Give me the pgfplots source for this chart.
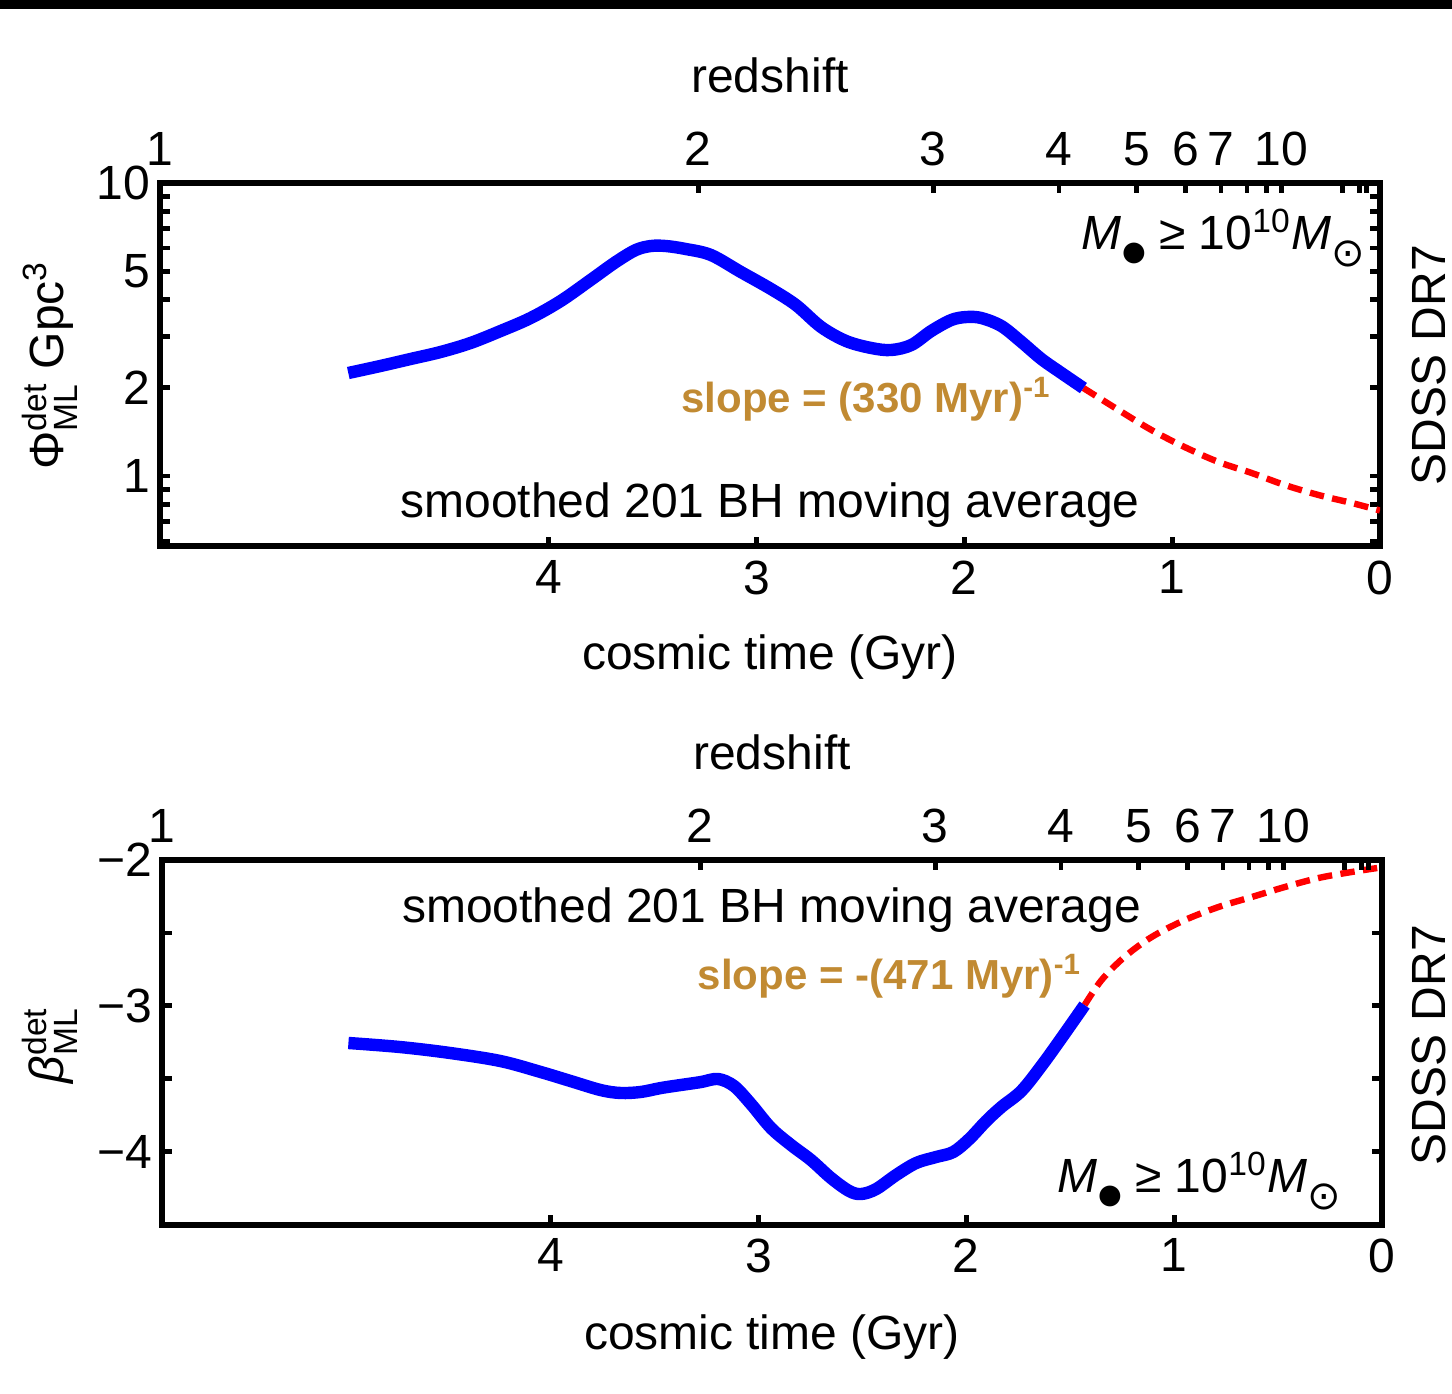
\documentclass[border=0pt]{standalone}
\usepackage{fontspec}
\setmainfont{Liberation Sans}
\newfontfamily\dejavu{DejaVu Sans}
\usepackage{amsmath}
\usepackage{pgfplots}
\pgfplotsset{compat=1.18}
\definecolor{slopecol}{RGB}{193,138,50}
\definecolor{curveblue}{RGB}{0,0,255}
\definecolor{curvered}{RGB}{255,0,0}
\newcommand{\fs}[1]{\fontsize{#1}{#1}\selectfont}
\newcommand{\Mbh}{\textit{M}\kern0.02em\raisebox{-0.22em}{\dejavu\fs{6.8bp}●}}
\newcommand{\Msun}{\textit{M}\raisebox{-0.34em}{\dejavu\fs{10bp}⊙}}

\pgfplotstableread{
t v
4.964 2.247
4.810 2.374
4.665 2.508
4.520 2.650
4.376 2.844
4.231 3.126
4.087 3.461
3.942 3.957
3.798 4.667
3.677 5.375
3.581 5.906
3.508 6.095
3.436 6.095
3.340 5.953
3.219 5.679
3.075 4.969
2.930 4.347
2.810 3.833
2.689 3.226
2.569 2.889
2.448 2.735
2.352 2.692
2.255 2.800
2.159 3.126
2.063 3.407
1.990 3.489
1.918 3.461
1.822 3.251
1.725 2.867
1.629 2.508
1.533 2.247
1.427 1.997
}\phiblue
\pgfplotstableread{
t v
1.427 1.997
1.258 1.680
1.099 1.435
0.940 1.256
0.776 1.116
0.617 1.024
0.458 0.932
0.294 0.861
0.135 0.809
0.000 0.763
}\phired
\pgfplotstableread{
t v
4.973 -3.255
4.723 -3.283
4.482 -3.324
4.241 -3.379
4.048 -3.454
3.904 -3.516
3.759 -3.578
3.663 -3.598
3.566 -3.591
3.470 -3.564
3.373 -3.543
3.277 -3.523
3.195 -3.502
3.118 -3.550
3.036 -3.674
2.940 -3.838
2.843 -3.955
2.747 -4.058
2.651 -4.181
2.564 -4.270
2.506 -4.291
2.434 -4.257
2.337 -4.160
2.241 -4.078
2.145 -4.037
2.063 -4.003
1.986 -3.914
1.904 -3.790
1.831 -3.694
1.735 -3.584
1.639 -3.413
1.542 -3.221
1.431 -2.995
}\betablue
\pgfplotstableread{
t v
1.431 -2.995
1.349 -2.823
1.239 -2.665
1.108 -2.528
0.949 -2.412
0.786 -2.322
0.627 -2.254
0.467 -2.185
0.304 -2.123
0.145 -2.082
0.000 -2.050
}\betared

\pgfplotsset{
  panel/.style={scale only axis, width=305bp, anchor=south west,
    x dir=reverse, xmin=0, xmax=5.87,
    axis line style={line width=1.5bp, black},
    every tick/.style={line width=1.2bp, black},
    major tick length=2.4bp, minor tick length=2.4bp, tick align=inside,
    tick label style={font=\fs{12bp}},
    yticklabel style={xshift=1bp},
    /pgf/number format/assume math mode=true,
    xtick={0,1,2,3,4}, xticklabels={0,1,2,3,4}, xtick pos=bottom,
    ytick pos=both,
  },
  zaxis/.style={scale only axis, width=305bp, anchor=south west,
    x dir=reverse, xmin=0, xmax=5.87, ymin=0, ymax=1,
    axis x line*=top, axis y line=none, xtick align=inside,
    axis line style={line width=1.5bp, black},
    every tick/.style={line width=1.2bp, black},
    major tick length=2.4bp, minor tick length=2.4bp,
    tick label style={font=\fs{12bp}},
    xticklabel style={yshift=0.8bp},
    xtick={5.87,3.28,2.15,1.545,1.17,0.935,0.765,0.474},
    xticklabels={1,2,3,4,5,6,7,10},
    minor xtick={0.64,0.547,0.18,0.10,0.066},
  },
  bluecurve/.style={curveblue, line width=3.1bp, smooth, tension=0.55},
  redcurve/.style={curvered, line width=1.6bp, dash pattern=on 3.6bp off 2.1bp, smooth, tension=0.55},
}

\begin{document}
\begin{tikzpicture}
\useasboundingbox (0,0) rectangle (363bp,348.5bp);
\fill[black] (0,346.3bp) rectangle (363bp,348.5bp);

% ---------- top panel ----------
\begin{axis}[panel, at={(40bp,211.875bp)}, height=90.875bp,
  ymode=log, ymin=0.575, ymax=10,
  ytick={1,2,5,10}, yticklabels={1,2,5,10},
  minor ytick={0.6,0.7,0.8,0.9,3,4,6,7,8,9}]
\addplot[redcurve] table[x=t,y=v] {\phired};
\addplot[bluecurve] table[x=t,y=v] {\phiblue};
\end{axis}
\begin{axis}[zaxis, at={(40bp,211.875bp)}, height=90.875bp]
\end{axis}

% ---------- bottom panel ----------
\begin{axis}[panel, at={(40.5bp,42.375bp)}, height=91.125bp,
  ymin=-4.5, ymax=-2,
  ytick={-4,-3,-2}, yticklabels={−4,−3,−2},
  minor ytick={-3.5,-2.5}]
\addplot[redcurve] table[x=t,y=v] {\betared};
\addplot[bluecurve] table[x=t,y=v] {\betablue};
\end{axis}
\begin{axis}[zaxis, at={(40.5bp,42.375bp)}, height=91.125bp]
\end{axis}

% ---------- labels ----------
\node[font=\fs{12bp}] at (192.5bp,329.75bp) {redshift};
\node[font=\fs{12bp}] at (192.5bp,184.25bp) {cosmic time (Gyr)};
\node[font=\fs{12bp}] at (193bp,160.5bp) {redshift};
\node[font=\fs{12bp}] at (193bp,14.25bp) {cosmic time (Gyr)};

\node[font=\fs{12bp}, rotate=90] at (12.5bp,257.25bp) {Φ$^{\text{det}}_{\text{ML}}$ Gpc$^{\text{3}}$};
\node[font=\fs{12bp}, rotate=90] at (12.5bp,87.25bp) {\textit{β}$^{\text{det}}_{\text{ML}}$};
\node[font=\fs{12bp}, rotate=90, inner sep=0pt] at (357.2bp,257.25bp) {SDSS DR7};
\node[font=\fs{12bp}, rotate=90, inner sep=0pt] at (357.2bp,87.25bp) {SDSS DR7};

% top annotations
\node[font=\fs{12bp}, anchor=base east, inner sep=0pt] at (341.5bp,286bp) {\Mbh\ ≥ 10\textsuperscript{10}\Msun};
\node[font=\fs{10.5bp}\bfseries, text=slopecol, anchor=base, inner sep=0pt] at (216.6bp,245.25bp) {slope = (330 Myr)\textsuperscript{-1}};
\node[font=\fs{12bp}, anchor=base, inner sep=0pt] at (192.5bp,219bp) {smoothed 201 BH moving average};

% bottom annotations
\node[font=\fs{12bp}, anchor=base, inner sep=0pt] at (192.9bp,117.75bp) {smoothed 201 BH moving average};
\node[font=\fs{10.5bp}\bfseries, text=slopecol, anchor=base, inner sep=0pt] at (222.5bp,101bp) {slope = -(471 Myr)\textsuperscript{-1}};
\node[font=\fs{12bp}, anchor=base east, inner sep=0pt] at (335.5bp,50.25bp) {\Mbh\ ≥ 10\textsuperscript{10}\Msun};
\end{tikzpicture}
\end{document}
